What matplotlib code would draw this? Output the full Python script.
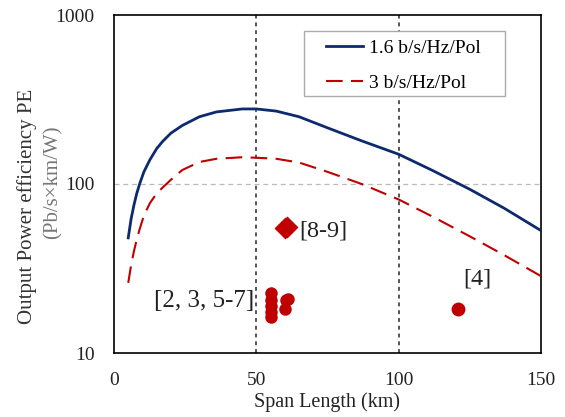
import matplotlib.pyplot as plt
from matplotlib.patches import Rectangle
import numpy as np

# curve samples (span km, PE)
span_km = [5, 6, 7, 8, 9, 10.5, 12.6, 15, 17, 20, 24, 30, 36, 45, 50, 57, 65, 75, 87, 100, 112, 125, 137, 150]
pe_16 = [48, 62, 75, 88, 100, 118, 139, 162, 178, 200, 222, 250, 267, 278, 278, 270, 250, 215, 180, 150, 120, 93, 72, 53]
pe_3 = [26, 33, 40, 47, 54, 65, 77, 88, 95, 106, 121, 135, 141, 144, 143, 141, 134, 118, 100, 81, 64, 49, 38, 28.5]

# reported results
lit_circle_x = [55, 55, 55, 55, 55, 60, 60.5, 61]
lit_circle_y = [22.5, 20.5, 19, 17.5, 16.3, 18.2, 20.5, 21]
ref4_x = [121]
ref4_y = [18.2]
ref89_x = [60, 60.7]
ref89_y = [55, 56]

series_labels = ["1.6 b/s/Hz/Pol", "3 b/s/Hz/Pol"]
xticks = [0, 50, 100, 150]
yticks = [10, 100, 1000]

plt.rcParams["font.family"] = ["Liberation Serif", "DejaVu Serif"]

fig = plt.figure(figsize=(5.65, 4.17), dpi=100)
ax = fig.add_axes([114 / 565, 1 - 353 / 417, (541 - 114) / 565, (353 - 15) / 417])

navy = "#0d2a6e"
red = "#c00000"

ax.axhline(100, color="#bbbbbb", lw=0.9, ls=(0, (4, 3)), zorder=1)
for xv in [50, 100]:
    ax.axvline(xv, color="#555555", lw=1.4, ls=(0, (2, 2)), zorder=1)

ax.plot(span_km, pe_16, color=navy, lw=2.0, label=series_labels[0], zorder=3)
ax.plot(span_km, pe_3, color=red, lw=1.5, ls=(0, (8, 4)), label=series_labels[1], zorder=3)

ax.plot(lit_circle_x, lit_circle_y, "o", color=red, ms=9, mec="none", zorder=4)
ax.plot(ref4_x, ref4_y, "o", color=red, ms=10, mec="none", zorder=4)
ax.plot(ref89_x, ref89_y, "D", color=red, ms=11, mec="none", zorder=4)

ax.text(65, 53, "[8-9]", fontsize=17.5, color="#222222", va="center", ha="left")
ax.text(49.3, 20.3, "[2, 3, 5-7]", fontsize=18, color="#222222", va="center", ha="right")
ax.text(127.5, 27.5, "[4]", fontsize=17.5, color="#222222", va="center", ha="center")

ax.set_yscale("log")
ax.set_xlim(0, 150)
ax.set_ylim(10, 1000)
ax.set_xticks(xticks)
ax.set_xticklabels([str(v) for v in xticks])
ax.set_yticks(yticks)
ax.set_yticklabels([str(v) for v in yticks])
ax.minorticks_off()
ax.tick_params(length=0, labelsize=14, colors="#222222")
ax.tick_params(axis="y", pad=14)
ax.tick_params(axis="x", pad=14)

ax.set_xlabel("Span Length (km)", fontsize=14.5, color="#222222", labelpad=2)
fig.text(27 / 565, 1 - 206 / 417, "Output Power efficiency PE", rotation=90,
         fontsize=15, color="#333333", ha="center", va="center")
fig.text(53 / 565, 1 - 182 / 417, "(Pb/s\u00d7km/W)", rotation=90,
         fontsize=15, color="#777777", ha="center", va="center")

for s in ax.spines.values():
    s.set_color("black")
    s.set_linewidth(1.2)

# legend box drawn separately so its padding matches the reference
box_x0, box_x1 = (304 - 114) / 427, (505 - 114) / 427
box_y0, box_y1 = (353 - 96) / 338, (353 - 31) / 338
ax.add_patch(Rectangle((box_x0, box_y0), box_x1 - box_x0, box_y1 - box_y0,
                       transform=ax.transAxes, facecolor="white", edgecolor="#aaaaaa",
                       lw=1.0, zorder=5))
leg = ax.legend(loc="upper left", bbox_to_anchor=((326 - 114) / 427, (353 - 39) / 338),
                bbox_transform=ax.transAxes, fontsize=14, frameon=False,
                handlelength=1.9, handletextpad=0.3, borderpad=0.0,
                labelspacing=0.9, borderaxespad=0)
leg.set_zorder(6)

fig.savefig("out.png", dpi=100)
